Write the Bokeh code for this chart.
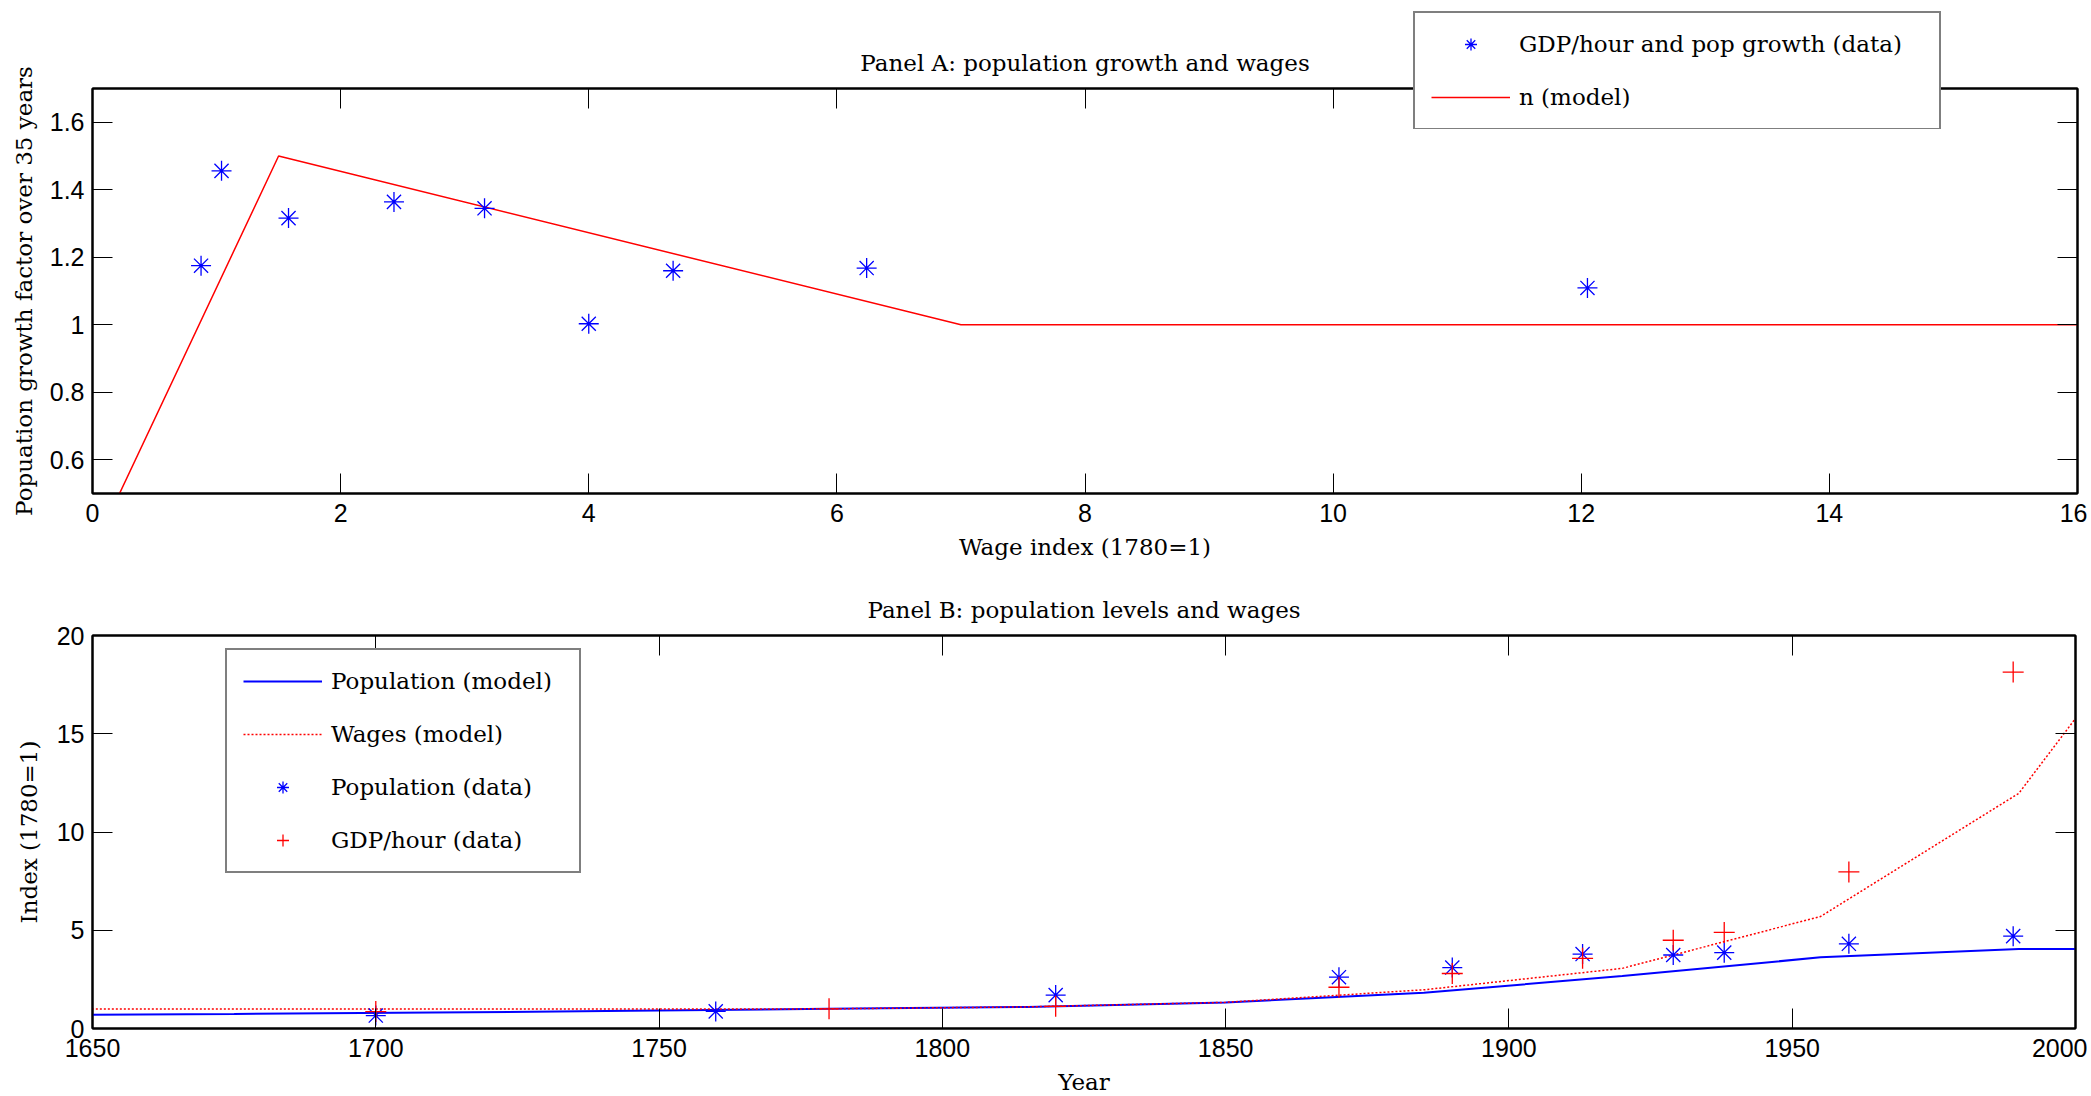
from bokeh.plotting import figure
from bokeh.layouts import column
from bokeh.models import (LinearAxis, Legend, LegendItem, CustomJSTickFormatter,
                          FixedTicker, Range1d)
from bokeh.embed import file_html
from bokeh.resources import INLINE

# ---------------- data ----------------
# Panel A
wage_data = [0.875, 1.04, 1.58, 2.43, 3.16, 4.0, 4.68, 6.24, 12.05]
growth_data = [1.175, 1.456, 1.316, 1.364, 1.345, 1.003, 1.160, 1.168, 1.109]
model_wage = [0.0, 1.5, 7.0, 16.0]
model_n = [0.33, 1.5, 1.0, 1.0]
a_xticks = [0, 2, 4, 6, 8, 10, 12, 14, 16]
a_yticks = [0.6, 0.8, 1.0, 1.2, 1.4, 1.6]

# Panel B
model_years = [1640, 1675, 1710, 1745, 1780, 1815, 1850, 1885, 1920, 1955, 1990, 2025]
pop_model = [0.68, 0.74, 0.81, 0.90, 1.0, 1.10, 1.32, 1.82, 2.67, 3.62, 4.05, 4.05]
wage_model = [0.99, 0.99, 0.99, 0.99, 1.0, 1.10, 1.33, 1.97, 3.06, 5.70, 11.97, 25.3]
pop_years = [1700, 1760, 1820, 1870, 1890, 1913, 1929, 1938, 1960, 1989]
pop_data = [0.66, 0.87, 1.70, 2.61, 3.10, 3.79, 3.74, 3.86, 4.31, 4.70]
gdp_years = [1700, 1780, 1820, 1870, 1890, 1913, 1929, 1938, 1960, 1989]
gdp_data = [0.86, 1.0, 1.13, 2.10, 2.80, 3.57, 4.49, 4.89, 7.97, 18.14]
b_xticks = [1650, 1700, 1750, 1800, 1850, 1900, 1950, 2000]
b_yticks = [0, 5, 10, 15, 20]

SERIF = "DejaVu Serif"
SANS = "Liberation Sans"
BLUE = "#0000ff"
RED = "#ff0000"
STAR_SIZE = 20
CROSS_SIZE = 21


def style_axis(ax, ticks, show_labels=True):
    ax.ticker = FixedTicker(ticks=ticks)
    ax.major_tick_in = 20
    ax.major_tick_out = 0
    ax.minor_tick_line_color = None
    ax.major_tick_line_color = "black"
    ax.major_tick_line_width = 1
    ax.axis_line_color = "black"
    ax.axis_line_width = 2
    if show_labels:
        ax.major_label_text_font = SANS
        ax.major_label_text_font_size = "25px"
        ax.major_label_text_color = "black"
        ax.axis_label_text_font = SERIF
        ax.axis_label_text_font_size = "23px"
        ax.axis_label_text_font_style = "normal"
        ax.axis_label_text_color = "black"
    else:
        ax.formatter = CustomJSTickFormatter(code="return ''")
        ax.major_label_standoff = 0


def make_fig(xr, yr, xticks, yticks, fw, fh, left, top, bottom, title, xlabel, ylabel,
             ylabel_standoff):
    p = figure(frame_width=fw, frame_height=fh, x_range=Range1d(*xr), y_range=Range1d(*yr),
               output_backend="svg", toolbar_location=None,
               min_border_left=left, min_border_right=12, min_border_top=top,
               min_border_bottom=bottom)
    p.background_fill_color = "white"
    p.border_fill_color = "white"
    p.outline_line_color = "black"
    p.outline_line_width = 2
    p.xgrid.visible = False
    p.ygrid.visible = False
    style_axis(p.xaxis[0], xticks)
    style_axis(p.yaxis[0], yticks)
    p.xaxis[0].axis_label = xlabel
    p.yaxis[0].axis_label = ylabel
    p.xaxis[0].major_label_standoff = 10
    p.xaxis[0].axis_label_standoff = 9
    p.yaxis[0].major_label_standoff = 8
    p.yaxis[0].axis_label_standoff = ylabel_standoff
    top_ax = LinearAxis()
    style_axis(top_ax, xticks, show_labels=False)
    p.add_layout(top_ax, "above")
    right_ax = LinearAxis()
    style_axis(right_ax, yticks, show_labels=False)
    p.add_layout(right_ax, "right")
    p.title.text = title
    p.title.align = "center"
    p.title.text_font = SERIF
    p.title.text_font_size = "23px"
    p.title.text_font_style = "normal"
    p.title.text_color = "black"
    p.title.standoff = 26
    return p


def style_legend(lg, label_width):
    lg.border_line_color = "black"
    lg.border_line_width = 2
    lg.background_fill_color = "white"
    lg.background_fill_alpha = 1.0
    lg.padding = 16
    lg.spacing = 23
    lg.margin = 0
    lg.label_height = 30
    lg.label_width = label_width
    lg.glyph_height = 30
    lg.glyph_width = 79
    lg.label_standoff = 9
    lg.label_text_font = SERIF
    lg.label_text_font_size = "23px"
    lg.label_text_color = "black"


# ---------------- Panel A ----------------
pA = make_fig((0, 16), (0.5, 1.7), a_xticks, a_yticks, 1985, 405, 90, 88, 82,
              "Panel A: population growth and wages", "Wage index (1780=1)",
              "Popuation growth factor over 35 years", 10)
rA_line = pA.line(model_wage, model_n, line_color=RED, line_width=1.5)
rA_pts = pA.scatter(wage_data, growth_data, marker="asterisk", size=STAR_SIZE,
                    line_color=BLUE, line_width=1.3)

# Legend of panel A sits partly above the frame, so it lives in its own small
# transparent figure overlaid on panel A (its ranges keep the copies of the
# series out of view; only the legend shows).
legfig = figure(frame_width=530, frame_height=118, output_backend="svg",
                toolbar_location=None, x_axis_type=None, y_axis_type=None,
                x_range=Range1d(-200, -199), y_range=Range1d(-200, -199),
                min_border=0, outline_line_color=None)
legfig.border_fill_alpha = 0
legfig.background_fill_alpha = 0
legfig.xgrid.visible = False
legfig.ygrid.visible = False
kA_pts = legfig.scatter(wage_data, growth_data, marker="asterisk", size=STAR_SIZE,
                        line_color=BLUE, line_width=1.3)
kA_line = legfig.line(model_wage, model_n, line_color=RED, line_width=1.5)
legA = Legend(items=[LegendItem(label="GDP/hour and pop growth (data)", renderers=[kA_pts]),
                     LegendItem(label="n (model)", renderers=[kA_line])],
              location="top_left")
style_legend(legA, 404)
legfig.add_layout(legA, "center")
legfig.margin = (-(88 + 405 + 82) + 11, 0, (88 + 405 + 82) - 11 - 118, 1413)

# ---------------- Panel B ----------------
pB = make_fig((1650, 2000), (0, 20), b_xticks, b_yticks, 1983, 393, 92, 60, 68,
              "Panel B: population levels and wages", "Year", "Index (1780=1)", 12)
rB_pop = pB.line(model_years, pop_model, line_color=BLUE, line_width=2)
rB_wage = pB.line(model_years, wage_model, line_color=RED, line_width=1.5, line_dash="2 2")
rB_popd = pB.scatter(pop_years, pop_data, marker="asterisk", size=STAR_SIZE,
                     line_color=BLUE, line_width=1.3)
rB_gdp = pB.scatter(gdp_years, gdp_data, marker="cross", size=CROSS_SIZE,
                    line_color=RED, line_width=1.3)
legB = Legend(items=[LegendItem(label="Population (model)", renderers=[rB_pop]),
                     LegendItem(label="Wages (model)", renderers=[rB_wage]),
                     LegendItem(label="Population (data)", renderers=[rB_popd]),
                     LegendItem(label="GDP/hour (data)", renderers=[rB_gdp])],
              location=(133, 155))
style_legend(legB, 232)
pB.add_layout(legB, "center")

layout = column(pA, legfig, pB, spacing=0)
open("out.html", "w").write(file_html(layout, INLINE))
